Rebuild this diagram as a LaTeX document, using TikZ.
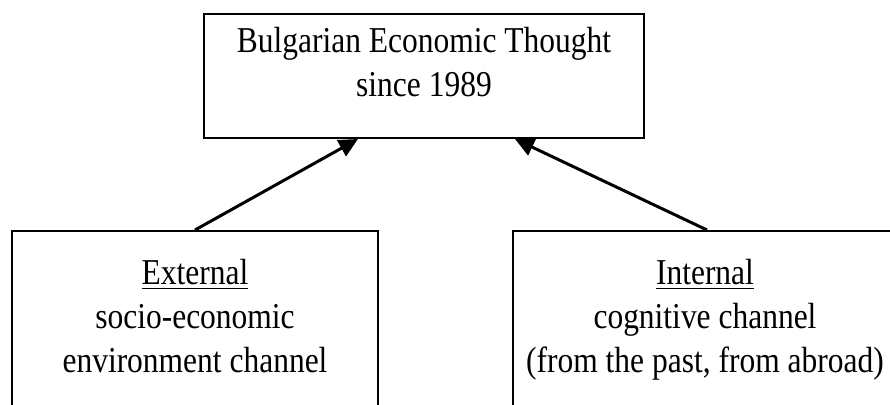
\documentclass[tikz,border=0pt]{standalone}
\usepackage{fontspec}
\setmainfont{Liberation Serif}[FakeStretch=0.865]
\usetikzlibrary{positioning}
\usetikzlibrary{arrows.meta}

\begin{document}
\begin{tikzpicture}[x = 0.5pt, y = -0.5pt,
		box/.style = {draw, rectangle, line width = 1pt, inner sep = 0pt},
		txt/.style = {align = center, inner sep = 0pt, font = \fontsize{18.2}{22}\selectfont},
		link/.style = {line width = 1.5pt, -{Triangle[length = 9.5pt, width = 9pt]}}]
		\path[use as bounding box, clip] (0,0) rectangle (890,405);
		\node[box, minimum width = 220pt, minimum height = 62pt] (thought) at (424,76) {};
		\node[box, minimum width = 183pt, minimum height = 100pt, anchor = north] (external) at (195,230) {};
		\node[box, minimum width = 194pt, minimum height = 100pt, anchor = north] (internal) at (707,230) {};
		\node[txt, anchor = base] (thoughttext) at (424,97) {Bulgarian Economic Thought\\since 1989};
		\node[txt, anchor = base] (externaltext) at (195,373) {\underline{External}\\socio-economic\\environment channel};
		\node[txt, anchor = base] (internaltext) at (705,373) {\underline{Internal}\\cognitive channel\\(from the past, from abroad)};
		\draw[link] (external.north) -- ([xshift = -33pt]thought.south);
		\draw[link] (internal.north) -- ([xshift = 45.5pt]thought.south);
		
		\end{tikzpicture}
\end{document}
